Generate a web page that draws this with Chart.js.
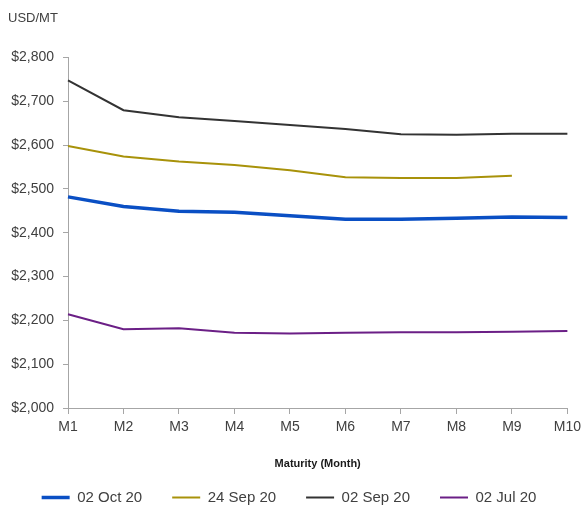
<!DOCTYPE html>
<html>
<head>
<meta charset="utf-8">
<script src="https://cdn.jsdelivr.net/npm/chart.js@4.4.1/dist/chart.umd.min.js"></script>
<style>
  html, body { margin: 0; padding: 0; background: #ffffff; }
  #wrap { width: 586px; height: 511px; position: relative; }
</style>
</head>
<body>
<div id="wrap"><canvas id="c" width="586" height="511"></canvas></div>
<script>
// Forward curve by contract maturity, USD per metric tonne
const maturities = ['M1', 'M2', 'M3', 'M4', 'M5', 'M6', 'M7', 'M8', 'M9', 'M10'];
const oct02 = [2482, 2460, 2449, 2447, 2439, 2431, 2431, 2433, 2436, 2435];
const sep24 = [2598, 2574, 2563, 2555, 2543, 2527, 2525, 2525, 2530, null];
const sep02 = [2748, 2680, 2664, 2655, 2646, 2637, 2625, 2624, 2626, 2626];
const jul02 = [2214, 2180, 2182, 2172, 2170, 2172, 2173, 2173, 2174, 2176];
const seriesNames = ['02 Oct 20', '24 Sep 20', '02 Sep 20', '02 Jul 20'];
const yTicks = [2000, 2100, 2200, 2300, 2400, 2500, 2600, 2700, 2800];

const FONT = "'Liberation Sans', Arial, sans-serif";
const TXT = '#404040';
const AXIS = '#a6a6a6';

function series(label, data, color, width) {
  return {
    label, data,
    borderColor: color, backgroundColor: color,
    borderWidth: width, pointRadius: 0, tension: 0,
    pointStyle: 'line',
    spanGaps: false, fill: false
  };
}

new Chart(document.getElementById('c'), {
  type: 'line',
  data: {
    labels: maturities,
    datasets: [
      series(seriesNames[0], oct02, '#0a4fc4', 3.5),
      series(seriesNames[1], sep24, '#a8920a', 2),
      series(seriesNames[2], sep02, '#333333', 2),
      series(seriesNames[3], jul02, '#6b1f86', 2)
    ]
  },
  options: {
    responsive: false,
    animation: false,
    layout: { padding: { left: 8, right: 16, top: 0, bottom: -4 } },
    plugins: {
      title: {
        display: true, text: 'USD/MT', align: 'start', color: TXT,
        font: { family: FONT, size: 13, weight: 'normal' },
        padding: { top: 11, bottom: 31 }
      },
      legend: {
        position: 'bottom',
        labels: {
          color: TXT, font: { family: FONT, size: 15 },
          usePointStyle: true, pointStyleWidth: 28, boxHeight: 15,
          padding: 30
        }
      },
      tooltip: { enabled: false }
    },
    scales: {
      x: {
        offset: false,
        grid: { display: true, drawOnChartArea: false, drawTicks: true, tickLength: 6, color: AXIS },
        border: { display: true, color: AXIS, width: 1 },
        ticks: { color: TXT, font: { family: FONT, size: 14 }, padding: 5, maxRotation: 0, autoSkip: false },
        title: {
          display: true, text: 'Maturity (Month)', color: '#1a1a1a',
          font: { family: FONT, size: 11, weight: 'bold' },
          padding: { top: 17, bottom: -11 }
        }
      },
      y: {
        min: 2000, max: 2800,
        afterBuildTicks: (s) => { s.ticks = yTicks.map(v => ({ value: v })); },
        afterFit: (s) => { s.width = 60; },
        grid: { display: true, drawOnChartArea: false, drawTicks: true, tickLength: 5, color: AXIS },
        border: { display: true, color: AXIS, width: 1 },
        ticks: {
          color: TXT, font: { family: FONT, size: 14 }, padding: 9,
          callback: (v) => '$' + Number(v).toLocaleString('en-US')
        }
      }
    }
  }
});
</script>
</body>
</html>
